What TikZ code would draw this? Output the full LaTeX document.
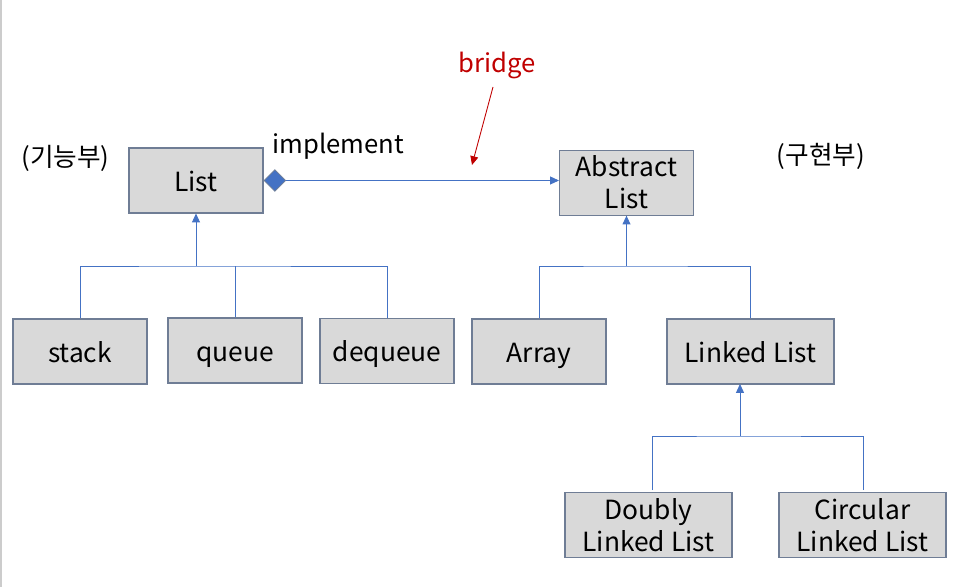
\documentclass[tikz,border=0pt]{standalone}
\usepackage{fontspec}
\setmainfont{Noto Sans CJK KR}
\usetikzlibrary{
  arrows.meta,
  positioning,
  shapes.geometric,
}
\definecolor{boxfill}{HTML}{D9D9D9}
\definecolor{boxline}{HTML}{6F7D95}
\definecolor{linkblue}{HTML}{4472C4}
\definecolor{darkred}{HTML}{C00000}
\tikzset{
  >={Triangle[length=5pt,width=4.5pt]},
  classbox/.style={draw=boxline, fill=boxfill, line width=0.6pt,
    minimum width=134*0.02cm, minimum height=65*0.02cm,
    align=center, font=\fontsize{15}{18.2}\selectfont, inner sep=0pt},
  oneline/.style={text height=13pt, text depth=1pt},
  twoline/.style={yshift=-1.2pt},
  wide/.style={minimum width=167*0.02cm},
  link/.style={draw=linkblue, line width=0.5pt},
  label/.style={font=\fontsize{14.6}{18}\selectfont},
}

\begin{document}
\begin{tikzpicture}[x=0.02cm, y=-0.02cm]
      \useasboundingbox (0,0) rectangle (977,587);
      \draw [gray!40, line width=0.6pt] (1,0) -- (1,587);

      % abstraction side
      \node [classbox, oneline] (list) at (196,180.5) {List};
      \node [classbox, oneline] (stack) at (80,351.5) {stack};
      \node [classbox, oneline] (queue) at (235,350.5) {queue};
      \node [classbox, oneline] (dequeue) at (387,351) {dequeue};

      % implementation side
      \node [classbox, twoline] (abslist) at (626.5,180.5) {Abstract\\List};
      \node [classbox, oneline] (array) at (539,351.5) {Array};
      \node [classbox, oneline, wide] (linked) at (750.5,351.5) {Linked List};
      \node [classbox, twoline, wide] (doubly) at (648.5,523) {Doubly\\Linked List};
      \node [classbox, twoline, wide] (circular) at (862.5,523) {Circular\\Linked List};

      \node [label] (func) at (65.5,158) {(기능부)};
      \node [label] (impl) at (821,156) {(구현부)};
      \node [label, anchor=west, inner sep=0pt] (implement) at (272,146) {implement};
      \node [label, text=darkred] (bridge) at (497,66) {bridge};

      % inheritance trees
      \coordinate (jlist) at (list.south |- 0,266);
      \coordinate (jabs) at (abslist.south |- 0,266);
      \coordinate (jlinked) at (740,436);

      \draw [link] (stack.north) |- (jlist) -| (dequeue.north);
      \draw [link] (queue.north) -- (queue.north |- jlist);
      \draw [link, ->] (jlist) -- (list.south);

      \draw [link] (array.north) |- (jabs) -| (linked.north);
      \draw [link, ->] (jabs) -- (abslist.south);

      \draw [link] (652,490) |- (jlinked) -| (863,490);
      \draw [link, ->] (jlinked) -- (740,384);

      % bridge
      \node [diamond, draw=boxline, fill=linkblue, minimum width=22*0.02cm,
        minimum height=22*0.02cm, inner sep=0pt, anchor=west] (dia) at (list.east) {};
      \draw [link, ->] (dia.east) -- (dia.east -| abslist.west);
      \coordinate (btail) at (493,87);
      \draw [darkred, line width=0.5pt, ->] (btail) -- (472,165);
    \end{tikzpicture}
\end{document}
